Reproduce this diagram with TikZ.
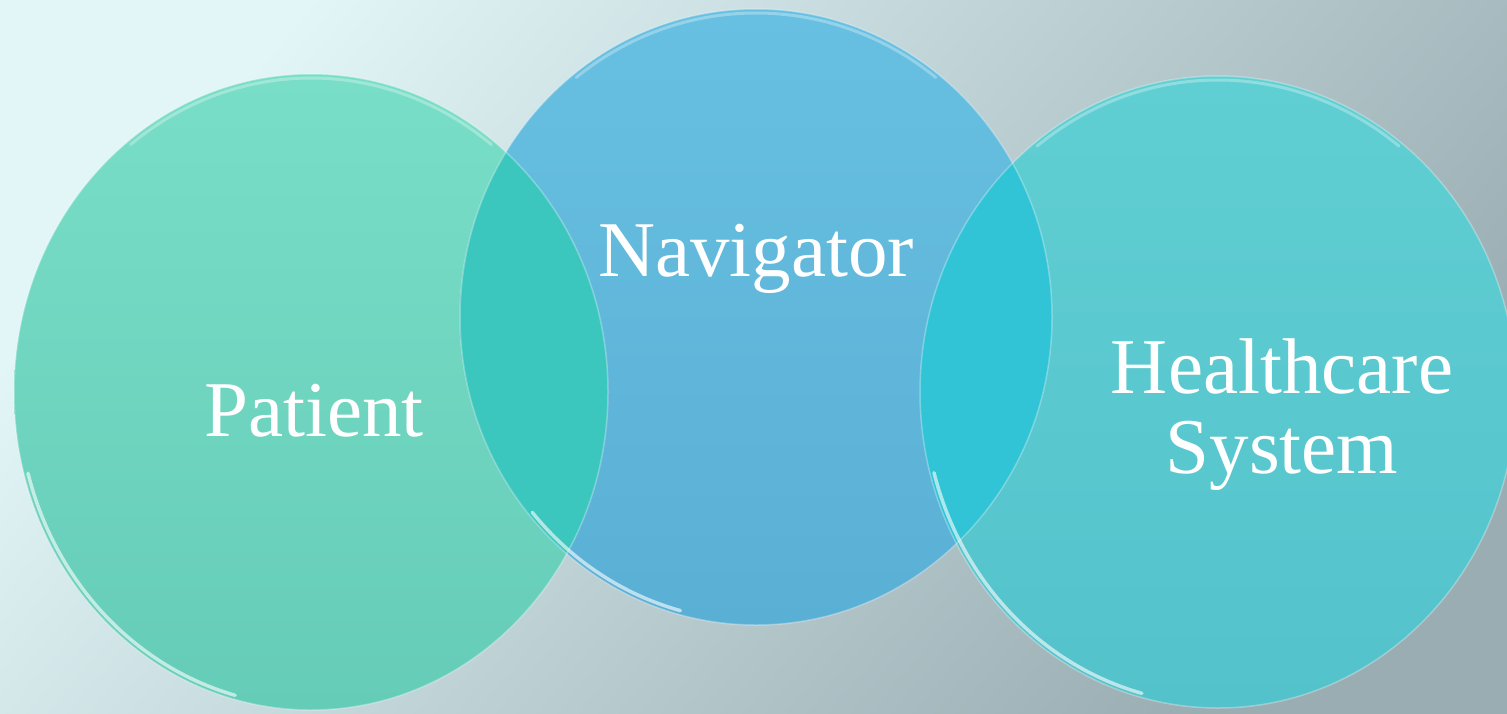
\documentclass[tikz,border=0pt]{standalone}
\usepackage{fontspec}
\setmainfont{Liberation Serif}
\definecolor{bgLight}{HTML}{E2F6F8}
\definecolor{bgMid}{HTML}{BDD0D3}
\definecolor{bgDark}{HTML}{99ADB2}
\definecolor{patTop}{HTML}{79DEC7}
\definecolor{patBot}{HTML}{65CCB8}
\definecolor{navTop}{HTML}{67C0E1}
\definecolor{navBot}{HTML}{5AAFD5}
\definecolor{hcTop}{HTML}{60CFD3}
\definecolor{hcBot}{HTML}{54C2CB}
\definecolor{ovPN}{HTML}{3CC7BE}
\definecolor{ovNH}{HTML}{31C3D6}
\tikzset{
  label/.style={text=white, inner sep=0pt, anchor=base, font=\fontsize{79}{80}\selectfont},
  rim/.style={draw=white, draw opacity=0.3, line width=1.5},
  tophl/.style={draw=white, draw opacity=0.3, line width=3, line cap=round},
  lowhl/.style={draw=white, draw opacity=0.6, line width=3.5, line cap=round},
}
\begin{document}
\begin{tikzpicture}[x=1pt,y=-1pt]
\useasboundingbox (0,0) rectangle (1507,713);
% background
\shade[shading=axis, top color=bgLight, middle color=bgMid, bottom color=bgDark, shading angle=50] (0,0) rectangle (1507,713);
% circles
\shade[top color=patTop, bottom color=patBot] (311,392) ellipse[x radius=297, y radius=318];
\shade[top color=navTop, bottom color=navBot] (756,317) ellipse[x radius=296, y radius=308];
\shade[top color=hcTop, bottom color=hcBot] (1218,392) ellipse[x radius=298, y radius=316];
% overlaps
\begin{scope}
  \clip (311,392) ellipse[x radius=297, y radius=318];
  \fill[ovPN] (756,317) ellipse[x radius=296, y radius=308];
\end{scope}
\begin{scope}
  \clip (1218,392) ellipse[x radius=298, y radius=316];
  \fill[ovNH] (756,317) ellipse[x radius=296, y radius=308];
\end{scope}
% rims
\path[rim] (311,392) ellipse[x radius=297, y radius=318];
\path[rim] (756,317) ellipse[x radius=296, y radius=308];
\path[rim] (1218,392) ellipse[x radius=298, y radius=316];
% top highlights
\path[tophl] (311,392) ++(232:293 and 314) arc[start angle=232, end angle=308, x radius=293, y radius=314];
\path[tophl] (756,317) ++(232:292 and 304) arc[start angle=232, end angle=308, x radius=292, y radius=304];
\path[tophl] (1218,392) ++(232:294 and 312) arc[start angle=232, end angle=308, x radius=294, y radius=312];
% lower-left reflections
\path[lowhl] (311,392) ++(105:293 and 314) arc[start angle=105, end angle=165, x radius=293, y radius=314];
\path[lowhl] (756,317) ++(105:292 and 304) arc[start angle=105, end angle=140, x radius=292, y radius=304];
\path[lowhl] (1218,392) ++(105:294 and 312) arc[start angle=105, end angle=165, x radius=294, y radius=312];
% labels
\node[label] (patient) at (314,436) {Patient};
\node[label] (navigator) at (756,276) {Navigator};
\node[label] (health) at (1282,393) {Healthcare};
\node[label] (system) at (1282,473) {System};
\end{tikzpicture}
\end{document}
